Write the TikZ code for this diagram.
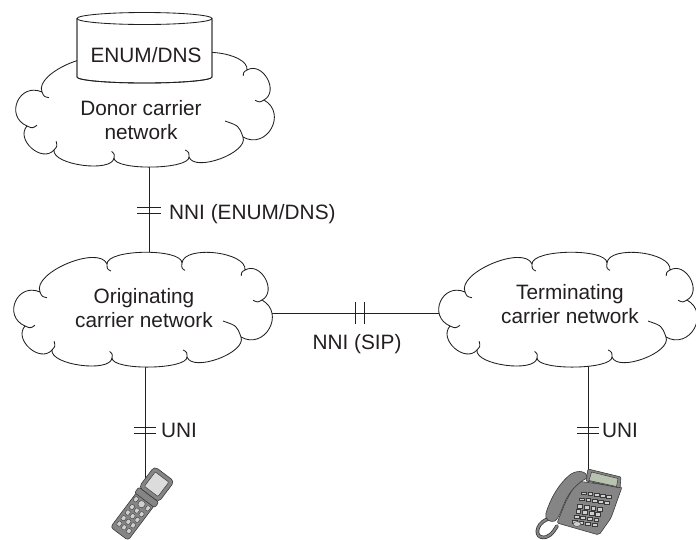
\documentclass[tikz,border=0pt]{standalone}
\usepackage{fontspec}
\setmainfont{Liberation Sans}
\usetikzlibrary{calc}

\definecolor{ink}{HTML}{231F20}
\definecolor{phonebody}{HTML}{858585}
\definecolor{phoneedge}{HTML}{3A3A3A}
\definecolor{phonekey}{HTML}{CFCFCF}
\definecolor{lcd}{HTML}{B7C2B1}
\definecolor{mobscreen}{HTML}{DCDCDC}

% one outward bulge of a cloud outline, from #1 to #2, bulge factor #3
\newcommand\lobeto[3]{.. controls ($(#1)!#3!90:(#2)$) and ($(#2)!#3!-90:(#1)$) .. (#2)}
% short inner tail at junction #1, running back along the lobe towards #2
\newcommand\hookback[4]{(#1) .. controls ($(#1)!#3!-90:(#2)$) .. ($(#1)!#4!-62:(#2)$)}
% short inner tail at junction #1, continuing the lobe that arrives from #2
\newcommand\hookfwd[4]{(#1) .. controls ($(#1)!#3!90:(#2)$) .. ($(#1)!#4!62:(#2)$)}

% carrier network cloud: #1 name prefix, (#2,#3) centre
\newcommand\carriercloud[3]{%
  \begin{scope}[shift={(#2,#3)}]
    \coordinate (#1-0) at (-105,-16);
    \coordinate (#1-1) at (-38,-44);
    \coordinate (#1-2) at (37,-45);
    \coordinate (#1-3) at (100,-38);
    \coordinate (#1-4) at (117,-8);
    \coordinate (#1-5) at (96,29);
    \coordinate (#1-6) at (42,49);
    \coordinate (#1-7) at (-33,50);
    \coordinate (#1-8) at (-93,42);
    \coordinate (#1-9) at (-120,18);
  \end{scope}
  \path[cloudline, fill=white] (#1-0)
    \lobeto{#1-0}{#1-1}{0.29} \lobeto{#1-1}{#1-2}{0.2}
    \lobeto{#1-2}{#1-3}{0.29} \lobeto{#1-3}{#1-4}{0.52}
    \lobeto{#1-4}{#1-5}{0.64} \lobeto{#1-5}{#1-6}{0.29}
    \lobeto{#1-6}{#1-7}{0.17} \lobeto{#1-7}{#1-8}{0.25}
    \lobeto{#1-8}{#1-9}{0.5}  \lobeto{#1-9}{#1-0}{0.67} -- cycle;
  \draw[cloudline]
    \hookback{#1-0}{#1-1}{5pt}{9pt}
    \hookback{#1-1}{#1-2}{5pt}{8pt}
    \hookback{#1-2}{#1-3}{5pt}{8pt}
    \hookback{#1-3}{#1-4}{4pt}{7pt}
    \hookfwd{#1-4}{#1-3}{5pt}{9pt}
    \hookback{#1-5}{#1-6}{12pt}{24pt}
    \hookback{#1-6}{#1-7}{5pt}{8pt}
    \hookback{#1-7}{#1-8}{4pt}{7pt}
    \hookback{#1-8}{#1-9}{5pt}{9pt}
    \hookback{#1-9}{#1-0}{6pt}{10pt};
}

\tikzset{
  link/.style={draw=ink, line width=0.85pt},
  cloudline/.style={draw=ink, line width=0.85pt, line join=round},
  lbl/.style={font=\fontsize{20.8}{24}\selectfont, text=ink, inner sep=0pt},
  phone/.style={fill=phonebody, draw=phoneedge, line width=0.6pt, line join=round},
  key/.style={fill=phonekey, draw=phoneedge, line width=0.4pt},
}

\begin{document}
\begin{tikzpicture}[x=1pt, y=-1pt]
\useasboundingbox (0,0) rectangle (696,539);

% connection points
\coordinate (donor-s) at (149,150);
\coordinate (orig-n) at (149,275);
\coordinate (orig-e) at (262,313);
\coordinate (term-w) at (460,313);
\coordinate (orig-s) at (145,345);
\coordinate (term-s) at (588,345);
\coordinate (mob-top) at (145,484);
\coordinate (desk-top) at (588,470);

% links (drawn first, the clouds cover their ends)
\draw[link] (donor-s) -- (orig-n);
\draw[link] (orig-e) -- (term-w);
\draw[link] (orig-s) -- (mob-top);
\draw[link] (term-s) -- (desk-top);

% interface marks
\coordinate (nni-a) at (149,210.5);
\coordinate (nni-b) at (359.5,313);
\coordinate (uni-a) at (145,430);
\coordinate (uni-b) at (588,430);
\draw[link] ($(nni-a)+(-12,-2.6)$) -- ($(nni-a)+(12,-2.6)$);
\draw[link] ($(nni-a)+(-12,2.6)$) -- ($(nni-a)+(12,2.6)$);
\draw[link] ($(nni-b)+(-4.5,-11)$) -- ($(nni-b)+(-4.5,11)$);
\draw[link] ($(nni-b)+(4.5,-11)$) -- ($(nni-b)+(4.5,11)$);
\draw[link] ($(uni-a)+(-11,-3)$) -- ($(uni-a)+(11,-3)$);
\draw[link] ($(uni-a)+(-11,3)$) -- ($(uni-a)+(11,3)$);
\draw[link] ($(uni-b)+(-11,-3)$) -- ($(uni-b)+(11,-3)$);
\draw[link] ($(uni-b)+(-11,3)$) -- ($(uni-b)+(11,3)$);

% carrier networks
\carriercloud{donorc}{147}{108}
\carriercloud{origc}{145}{308}
\carriercloud{termc}{570}{308}

% ENUM/DNS database
\path[cloudline, fill=white] (77,18.5) -- (77,77)
  arc[start angle=180, end angle=360, x radius=67.5pt, y radius=6pt] -- (212,18.5) -- cycle;
\draw[cloudline] (77,18.5) -- (77,77)
  arc[start angle=180, end angle=360, x radius=67.5pt, y radius=6pt] -- (212,18.5);
\draw[cloudline, fill=white] (144.5,18.5) ellipse [x radius=67.5pt, y radius=6pt];

% texts
\node[lbl, anchor=base] (enum) at (146,62.5) {ENUM/DNS};
\node[lbl, align=center] (donor) at (141,120) {Donor carrier\\network};
\node[lbl, align=center] (orig) at (144,308.5) {Originating\\carrier network};
\node[lbl, align=center] (term) at (570,304.5) {Terminating\\carrier network};
\node[lbl, anchor=base west] (nnienum) at (169,219) {NNI (ENUM/DNS)};
\node[lbl, anchor=base] (nnisip) at (357,349) {NNI (SIP)};
\node[lbl, anchor=base west] (unia) at (161,437) {UNI};
\node[lbl, anchor=base west] (unib) at (602,437) {UNI};

% folding mobile handset
\begin{scope}[shift={(147,497)}, rotate=53]
  \filldraw[phone, rounded corners=3pt] (-46,-11) rectangle (-1,11);
  \filldraw[phone, rounded corners=2pt] (-4,-12.5) rectangle (3,12.5);
  \filldraw[phone, rounded corners=4pt] (3,-12.5) rectangle (29,12.5);
  \filldraw[fill=mobscreen, draw=phoneedge, line width=0.5pt, rounded corners=1pt] (7,-8.5) rectangle (25,8.5);
  \filldraw[key] (-9,0) circle (3.6pt);
  \filldraw[key, rounded corners=1pt] (-11,-9.5) rectangle (-6,-5.5);
  \filldraw[key, rounded corners=1pt] (-11,5.5) rectangle (-6,9.5);
  \foreach \r in {-17,-24,-31,-38}
    \foreach \c in {-6,0,6}
      \filldraw[key, rounded corners=1pt] (\r-2.4,\c-2.1) rectangle (\r+2.4,\c+2.1);
\end{scope}

% desk telephone
\draw[line width=3.6pt, phoneedge, line cap=round]
  (551,518) .. controls (537,521) and (534,535) .. (541,537)
  .. controls (548,539) and (553,533) .. (557,526);
\draw[line width=2pt, phonebody, line cap=round]
  (551,518) .. controls (537,521) and (534,535) .. (541,537)
  .. controls (548,539) and (553,533) .. (557,526);
\filldraw[phone, rounded corners=2pt] (577,481) -- (622,487) -- (611,518) -- (599,535) -- (557,523) -- (566,501) -- cycle;
\filldraw[phone, rounded corners=1pt] (588,469) -- (621,477) -- (620,488) -- (586,481) -- cycle;
\filldraw[fill=lcd, draw=phoneedge, line width=0.5pt] (591.5,472) -- (618,478.5) -- (616.5,486.5) -- (589,480.5) -- cycle;
\foreach \i in {0,...,4} {
  \filldraw[key] ($(584,493)+(\i*6.2,\i*0.9)$) ++(-2.4,-1.3) rectangle ++(4.8,2.6);
  \filldraw[key] ($(582,499)+(\i*6.2,\i*0.9)$) ++(-2.4,-1.3) rectangle ++(4.8,2.6);
}
\foreach \rw in {0,...,3}
  \foreach \cl in {0,...,3}
    \filldraw[key] ($(580,506)+(\cl*6.6,\cl*1)+(\rw*-1.8,\rw*5.2)$) ++(-2.4,-1.7) rectangle ++(4.8,3.4);
\filldraw[key] (577,524) ellipse [x radius=4pt, y radius=2.4pt];
\filldraw[phone] (571,474) .. controls (579,469) and (588,472) .. (587,478)
  .. controls (579,482) and (569,491) .. (564,504)
  .. controls (561,511) and (559,518) .. (555,521)
  .. controls (550,523) and (544,519) .. (546,513)
  .. controls (550,500) and (558,484) .. (571,474) -- cycle;
\end{tikzpicture}
\end{document}
